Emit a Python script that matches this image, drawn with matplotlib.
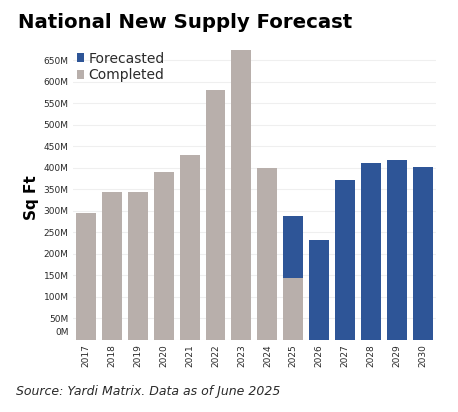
import matplotlib
matplotlib.use('Agg')
import matplotlib.pyplot as plt
from matplotlib.ticker import FuncFormatter, MultipleLocator
import numpy as np

years = ['2017', '2018', '2019', '2020', '2021', '2022', '2023',
         '2024', '2025', '2026', '2027', '2028', '2029', '2030']
completed = [296, 345, 345, 391, 430, 581, 674, 400, 144, 0, 0, 0, 0, 0]
forecasted = [0, 0, 0, 0, 0, 0, 0, 0, 144, 232, 372, 412, 419, 403]

gray = '#b8afab'
blue = '#2e5597'
text_col = '#2a2a2a'

plt.rcParams['font.family'] = ['DejaVu Sans']

fig = plt.figure(figsize=(4.58, 4.12), dpi=100)
ax = fig.add_axes([0.159, 0.175, 0.793, 0.720])

x = np.arange(len(years))
ax.bar(x, completed, width=0.77, color=gray, label='Completed', zorder=2)
ax.bar(x, forecasted, width=0.77, bottom=completed, color=blue, label='Forecasted', zorder=2)

ax.set_xlim(-0.5, len(years) - 0.5)
ax.set_ylim(0, 690)
ax.yaxis.set_major_locator(MultipleLocator(50))
# the 0M label sits a little higher in the original, drawn separately below
ax.yaxis.set_major_formatter(FuncFormatter(lambda v, p: f'{int(v)}M' if v > 0 else ''))
ax.annotate('0M', xy=(0, 0), xycoords=('axes fraction', 'data'), xytext=(-3, 5),
            textcoords='offset points', ha='right', va='center', fontsize=6.5, color=text_col)
ax.set_xticks(x)
ax.set_xticklabels(years, rotation=90)
ax.tick_params(axis='both', length=0, labelsize=6.5, colors=text_col)
ax.tick_params(axis='y', pad=3)
ax.tick_params(axis='x', pad=3)
ax.grid(axis='y', color='#efefef', linewidth=0.8, zorder=0)
for s in ax.spines.values():
    s.set_visible(False)

ax.set_ylabel('Sq Ft', fontsize=11, fontweight='bold', color='black')
ax.yaxis.set_label_coords(-0.093, 0.48)

handles, labels = ax.get_legend_handles_labels()
leg = ax.legend(handles[::-1], labels[::-1], loc='upper left', bbox_to_anchor=(-0.012, 1.0),
                frameon=False, fontsize=10, handlelength=0.55, handleheight=0.55,
                handletextpad=0.3, labelspacing=0.2, borderaxespad=0.2)
for t in leg.get_texts():
    t.set_color(text_col)

fig.text(0.04, 0.945, 'National New Supply Forecast', fontsize=14.2, fontweight='bold',
         color='black', va='center', ha='left')
fig.text(0.035, 0.05, 'Source: Yardi Matrix. Data as of June 2025', fontsize=9,
         style='italic', color=text_col, va='center', ha='left')

fig.savefig('out.png', dpi=100)
